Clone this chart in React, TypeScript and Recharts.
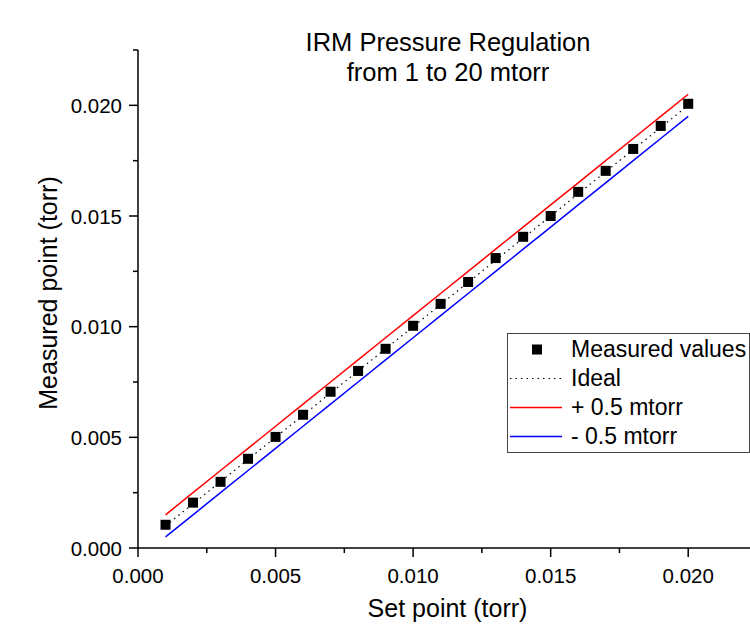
import React from 'react';
import { ComposedChart, Line, Scatter, XAxis, YAxis, Legend } from 'recharts';

const FONT = '"Liberation Sans", Arial, sans-serif';

// set points (torr)
const setPoints = [
  0.001, 0.002, 0.003, 0.004, 0.005, 0.006, 0.007, 0.008, 0.009, 0.01,
  0.011, 0.012, 0.013, 0.014, 0.015, 0.016, 0.017, 0.018, 0.019, 0.02,
];
const measured = [
  0.00105, 0.00205, 0.00299, 0.00403, 0.00502, 0.00602, 0.00706, 0.008, 0.009, 0.01004,
  0.01103, 0.01202, 0.0131, 0.01406, 0.015, 0.01609, 0.01704, 0.01803, 0.01907, 0.02007,
];
const ideal = [
  0.001, 0.002, 0.003, 0.004, 0.005, 0.006, 0.007, 0.008, 0.009, 0.01,
  0.011, 0.012, 0.013, 0.014, 0.015, 0.016, 0.017, 0.018, 0.019, 0.02,
];
const plusHalf = [
  0.0015, 0.0025, 0.0035, 0.0045, 0.0055, 0.0065, 0.0075, 0.0085, 0.0095, 0.0105,
  0.0115, 0.0125, 0.0135, 0.0145, 0.0155, 0.0165, 0.0175, 0.0185, 0.0195, 0.0205,
];
const minusHalf = [
  0.0005, 0.0015, 0.0025, 0.0035, 0.0045, 0.0055, 0.0065, 0.0075, 0.0085, 0.0095,
  0.0105, 0.0115, 0.0125, 0.0135, 0.0145, 0.0155, 0.0165, 0.0175, 0.0185, 0.0195,
];

const axisTicks = [0, 0.0025, 0.005, 0.0075, 0.01, 0.0125, 0.015, 0.0175, 0.02, 0.0225];
const seriesNames = ['Measured values', 'Ideal', '+ 0.5 mtorr', '- 0.5 mtorr'];

const rows = setPoints.map((x, i) => ({
  x,
  measured: measured[i],
  ideal: ideal[i],
  plus: plusHalf[i],
  minus: minusHalf[i],
}));

const isMajor = (v: number) => Math.round(v / 0.0025) % 2 === 0;

const XTick = ({ x, y, payload }: any) => {
  const major = isMajor(payload.value);
  return (
    <g>
      <line x1={x} y1={y} x2={x} y2={y + (major ? 9 : 5)} stroke="#000" strokeWidth={1.5} />
      {major && (
        <text x={x} y={y + 35} textAnchor="middle" fontSize={20.5} fontFamily={FONT} fill="#000">
          {payload.value.toFixed(3)}
        </text>
      )}
    </g>
  );
};

const YTick = ({ x, y, payload }: any) => {
  const major = isMajor(payload.value);
  return (
    <g>
      <line x1={x} y1={y} x2={x - (major ? 9 : 5)} y2={y} stroke="#000" strokeWidth={1.5} />
      {major && (
        <text x={x - 16} y={y + 7.5} textAnchor="end" fontSize={20.5} fontFamily={FONT} fill="#000">
          {payload.value.toFixed(3)}
        </text>
      )}
    </g>
  );
};

const Square = (props: any) => (
  <rect x={props.cx - 5} y={props.cy - 5} width={10} height={10} fill="#000" />
);

const LegendBox = () => {
  const symbols = [
    <rect x={22} y={9.5} width={10} height={10} fill="#000" />,
    <line x1={0} y1={14.5} x2={52} y2={14.5} stroke="#000" strokeWidth={1.2} strokeDasharray="1.5 4" />,
    <line x1={0} y1={14.5} x2={52} y2={14.5} stroke="#ff0000" strokeWidth={1.5} />,
    <line x1={0} y1={14.5} x2={52} y2={14.5} stroke="#0000ff" strokeWidth={1.5} />,
  ];
  return (
    <div
      style={{
        width: 241,
        height: 117,
        border: '1px solid #444',
        boxSizing: 'content-box',
        paddingTop: 1,
        background: '#fff',
        fontFamily: FONT,
      }}
    >
      {seriesNames.map((name, i) => (
        <div key={name} style={{ display: 'flex', alignItems: 'center', height: 29 }}>
          <svg width={52} height={29} style={{ marginLeft: 2, marginRight: 9 }}>
            {symbols[i]}
          </svg>
          <span style={{ fontSize: 23, lineHeight: '29px', color: '#000', whiteSpace: 'nowrap' }}>{name}</span>
        </div>
      ))}
    </div>
  );
};

export default function App() {
  return (
    <div
      style={{
        position: 'absolute',
        left: 0,
        top: 0,
        width: 750,
        height: 626,
        overflow: 'hidden',
        background: '#fff',
        fontFamily: FONT,
      }}
    >
      <div
        style={{
          position: 'absolute',
          left: 248,
          top: 27,
          width: 400,
          textAlign: 'center',
          fontSize: 25.5,
          lineHeight: '30px',
          color: '#000',
        }}
      >
        IRM Pressure Regulation
        <br />
        from 1 to 20 mtorr
      </div>
      <ComposedChart width={760} height={626} data={rows} margin={{ top: 50, right: 3, bottom: 0, left: 0 }}>
        <XAxis
          type="number"
          dataKey="x"
          domain={[0, 0.0225]}
          ticks={axisTicks}
          interval={0}
          allowDataOverflow
          height={78}
          tickSize={0}
          tickMargin={0}
          tickLine={false}
          axisLine={{ stroke: '#000', strokeWidth: 1.5 }}
          tick={(p: any) => <XTick {...p} />}
          label={{
            value: 'Set point (torr)',
            content: ({ viewBox }: any) => (
              <text
                x={viewBox.x + viewBox.width / 2}
                y={viewBox.y + 69}
                textAnchor="middle"
                fontSize={25}
                fontFamily={FONT}
                fill="#000"
              >
                Set point (torr)
              </text>
            ),
          }}
        />
        <YAxis
          type="number"
          domain={[0, 0.0225]}
          ticks={axisTicks}
          interval={0}
          allowDataOverflow
          width={138}
          tickSize={0}
          tickMargin={0}
          tickLine={false}
          axisLine={{ stroke: '#000', strokeWidth: 1.5 }}
          tick={(p: any) => <YTick {...p} />}
          label={{
            value: 'Measured point (torr)',
            content: ({ viewBox }: any) => {
              const cx = viewBox.x + 57;
              const cy = viewBox.y + viewBox.height / 2 - 6;
              return (
                <text
                  x={cx}
                  y={cy}
                  transform={`rotate(-90 ${cx} ${cy})`}
                  textAnchor="middle"
                  fontSize={25}
                  fontFamily={FONT}
                  fill="#000"
                >
                  Measured point (torr)
                </text>
              );
            },
          }}
        />
        <Legend
          layout="vertical"
          align="center"
          verticalAlign="middle"
          content={() => <LegendBox />}
          wrapperStyle={{ position: 'absolute', left: 507, top: 333, width: 243 }}
        />
        <Line
          dataKey="plus"
          name={seriesNames[2]}
          stroke="#ff0000"
          strokeWidth={1.5}
          dot={false}
          isAnimationActive={false}
        />
        <Line
          dataKey="minus"
          name={seriesNames[3]}
          stroke="#0000ff"
          strokeWidth={1.5}
          dot={false}
          isAnimationActive={false}
        />
        <Line
          dataKey="ideal"
          name={seriesNames[1]}
          stroke="#000"
          strokeWidth={1.2}
          strokeDasharray="1.5 4"
          dot={false}
          isAnimationActive={false}
        />
        <Scatter dataKey="measured" name={seriesNames[0]} fill="#000" shape={Square} isAnimationActive={false} />
      </ComposedChart>
    </div>
  );
}
